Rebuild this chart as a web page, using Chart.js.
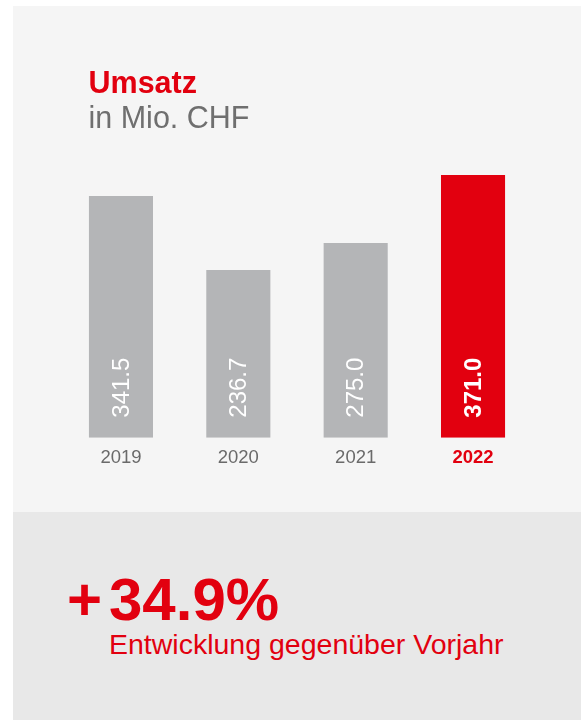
<!DOCTYPE html>
<html>
<head>
<meta charset="utf-8">
<script src="https://cdn.jsdelivr.net/npm/chart.js@4"></script>
<style>
    body {
        margin: 0;
        background: #ffffff;
        font-family: "Liberation Sans", Arial, Helvetica, sans-serif;
    }
    .page {
        position: relative;
        width: 581px;
        height: 720px;
        overflow: hidden;
    }
    .panel-top {
        position: absolute;
        left: 13px;
        top: 6px;
        width: 568px;
        height: 506px;
        background: #f5f5f5;
    }
    .panel-bottom {
        position: absolute;
        left: 13px;
        top: 512px;
        width: 568px;
        height: 208px;
        background: #e8e8e8;
    }
    .chart-box {
        position: absolute;
        left: 0;
        top: 0;
        width: 581px;
        height: 512px;
    }
    .txt {
        position: absolute;
        white-space: nowrap;
    }
    #title {
        left: 88.5px;
        top: 67px;
        font-size: 30.5px;
        line-height: 30.5px;
        font-weight: bold;
        color: #e2000f;
    }
    #unit {
        left: 88.5px;
        top: 102px;
        font-size: 30.5px;
        line-height: 30.5px;
        color: #6f6f6f;
    }
    #plus, #change {
        top: 570.2px;
        font-size: 60px;
        line-height: 60px;
        font-weight: bold;
        color: #e2000f;
    }
    #plus { left: 67px; }
    #change { left: 109px; }
    #changeLabel {
        left: 109px;
        top: 629.9px;
        font-size: 28.5px;
        line-height: 28.5px;
        color: #e2000f;
    }
</style>
</head>
<body>
<div class="page">
    <div class="panel-top"></div>
    <div class="panel-bottom"></div>
    <div class="chart-box"><canvas id="salesChart" width="581" height="512"></canvas></div>
    <div class="txt" id="title">Umsatz</div>
    <div class="txt" id="unit">in Mio. CHF</div>
    <div class="txt" id="plus">+</div>
    <div class="txt" id="change">34.9%</div>
    <div class="txt" id="changeLabel">Entwicklung gegenüber Vorjahr</div>
</div>
<script>
const years = ["2019", "2020", "2021", "2022"];
const sales = [341.5, 236.7, 275.0, 371.0];
const valueLabels = ["341.5", "236.7", "275.0", "371.0"];
const highlight = [false, false, false, true];

const RED = "#e2000f";
const GREY_BAR = "#b4b5b7";
const FONT = "'Liberation Sans', Arial, Helvetica, sans-serif";

// white rotated value text inside each bar
const barValuePlugin = {
    id: "barValues",
    afterDatasetsDraw(chart) {
        const ctx = chart.ctx;
        const meta = chart.getDatasetMeta(0);
        meta.data.forEach((bar, i) => {
            ctx.save();
            ctx.translate(bar.x, bar.base - 20);
            ctx.rotate(-Math.PI / 2);
            ctx.fillStyle = "#ffffff";
            ctx.font = (highlight[i] ? "bold " : "") + "24px " + FONT;
            ctx.textAlign = "left";
            ctx.textBaseline = "middle";
            ctx.fillText(valueLabels[i], 0, 1);
            ctx.restore();
        });
    }
};

new Chart(document.getElementById("salesChart"), {
    type: "bar",
    data: {
        labels: years,
        datasets: [{
            data: sales,
            backgroundColor: highlight.map((h) => (h ? RED : GREY_BAR)),
            borderWidth: 0,
            barPercentage: 0.546,
            categoryPercentage: 1
        }]
    },
    options: {
        responsive: false,
        animation: false,
        layout: {
            padding: { left: 62.3, right: 49.3, top: 154.5, bottom: 0 }
        },
        plugins: {
            legend: { display: false },
            tooltip: { enabled: false }
        },
        scales: {
            y: {
                display: false,
                min: 0,
                max: 400
            },
            x: {
                grid: { display: false },
                border: { display: false },
                ticks: {
                    padding: 1,
                    color: (c) => (highlight[c.index] ? RED : "#6a6a6a"),
                    font: (c) => ({
                        family: FONT,
                        size: 18.5,
                        weight: highlight[c.index] ? "bold" : "normal"
                    })
                },
                afterFit(scale) {
                    scale.height = 74.3;
                }
            }
        }
    },
    plugins: [barValuePlugin]
});
</script>
</body>
</html>
